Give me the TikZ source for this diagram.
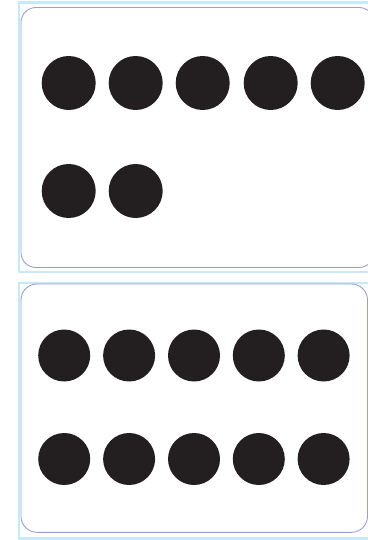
\documentclass[tikz,border=0pt]{standalone}
\definecolor{frameblue}{HTML}{C6EAF7}
\definecolor{framepurple}{HTML}{9C9CD2}
\definecolor{dotblack}{HTML}{231F20}
\begin{document}
\begin{tikzpicture}[x=1pt,y=-1pt,
  outerframe/.style={draw=frameblue,line width=2.2pt},
  innerframe/.style={draw=framepurple,line width=0.9pt,rounded corners=15pt},
  bigdot/.style={circle,fill=dotblack,inner sep=0pt,minimum size=54pt},
  smalldot/.style={circle,fill=dotblack,inner sep=0pt,minimum size=52pt}]
\useasboundingbox (0,0) rectangle (367,540);
% top panel
\draw[outerframe] (19,2.5) rectangle (390,272);
\draw[innerframe] (21,7.5) rectangle (374,267.5);
\foreach \i/\x in {1/68.7,2/135.7,3/202.7,4/270.7,5/337.7}
  \node[bigdot] (ta\i) at (\x,83) {};
\foreach \i/\x in {1/68.7,2/135.7}
  \node[bigdot] (tb\i) at (\x,191) {};
% bottom panel
\draw[outerframe] (19,283) rectangle (390,538.5);
\draw[innerframe,rounded corners=16pt] (21,284) rectangle (367.5,532.3);
\foreach \i/\x in {1/64.2,2/129.1,3/194,4/258.8,5/323.6}{
  \node[smalldot] (ba\i) at (\x,355.5) {};
  \node[smalldot] (bb\i) at (\x,459) {};
}
\end{tikzpicture}
\end{document}
